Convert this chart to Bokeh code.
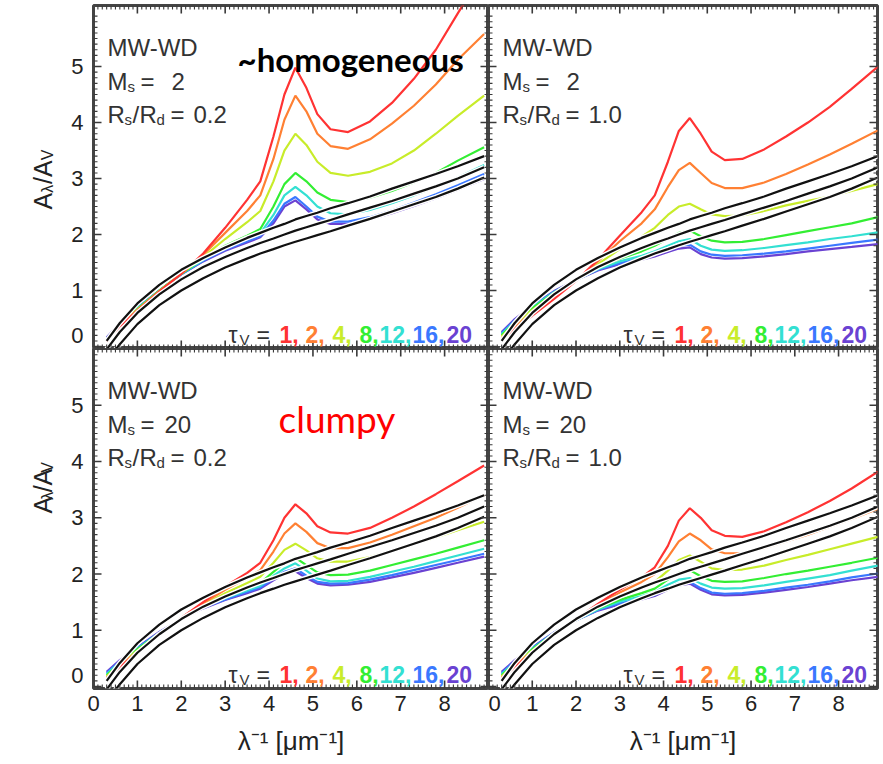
from bokeh.plotting import figure
from bokeh.models import Range1d, FixedTicker, LinearAxis, Label
from bokeh.layouts import gridplot
from bokeh.embed import file_html
from bokeh.resources import INLINE

# ---------------- data ----------------
# inverse wavelength grid [1/micron]
X = [0.3, 0.6, 1.0, 1.5, 2.0, 2.5, 3.0, 3.5, 3.8, 4.1, 4.35, 4.6, 4.85, 5.1,
     5.4, 5.8, 6.3, 6.8, 7.3, 7.8, 8.3, 8.9]

TAU_V = [1, 2, 4, 8, 12, 16, 20]
TAU_COLORS = ["#ff3333", "#ff8033", "#c8ec2a", "#33ee33", "#33e0d2", "#3a78ff", "#6a42d2"]

# three black reference curves (same in every panel)
BLACK_1 = [0.10, 0.42, 0.77, 1.10, 1.37, 1.58, 1.77, 1.94, 2.03, 2.12, 2.19, 2.27, 2.33, 2.39,
           2.47, 2.56, 2.68, 2.82, 2.95, 3.08, 3.22, 3.40]
BLACK_2 = [-0.05, 0.26, 0.60, 0.93, 1.20, 1.42, 1.60, 1.76, 1.85, 1.93, 2.00, 2.07, 2.13, 2.19,
           2.26, 2.36, 2.48, 2.60, 2.73, 2.86, 3.00, 3.20]
BLACK_3 = [-0.25, 0.04, 0.40, 0.74, 1.00, 1.22, 1.41, 1.57, 1.66, 1.74, 1.81, 1.87, 1.93, 1.99,
           2.06, 2.16, 2.28, 2.41, 2.54, 2.67, 2.82, 3.02]

# A_lambda/A_V for tau_V = 1, 2, 4, 8, 12, 16, 20
MS2_R02 = [
    [0.10, 0.36, 0.64, 0.98, 1.30, 1.66, 2.12, 2.62, 2.95, 3.75, 4.50, 4.98, 4.62, 4.15, 3.88, 3.83, 4.02, 4.35, 4.78, 5.30, 5.95, 6.70],
    [0.11, 0.37, 0.65, 0.99, 1.30, 1.64, 2.03, 2.42, 2.70, 3.35, 4.05, 4.48, 4.20, 3.80, 3.58, 3.53, 3.70, 3.98, 4.30, 4.68, 5.12, 5.58],
    [0.12, 0.38, 0.66, 0.99, 1.30, 1.60, 1.92, 2.22, 2.42, 2.95, 3.50, 3.80, 3.60, 3.30, 3.10, 3.05, 3.12, 3.27, 3.50, 3.80, 4.12, 4.48],
    [0.13, 0.39, 0.67, 1.00, 1.30, 1.57, 1.80, 1.98, 2.10, 2.50, 2.90, 3.10, 2.95, 2.75, 2.62, 2.58, 2.66, 2.78, 2.93, 3.10, 3.32, 3.56],
    [0.14, 0.40, 0.68, 1.00, 1.30, 1.55, 1.76, 1.92, 2.02, 2.35, 2.70, 2.85, 2.70, 2.50, 2.38, 2.36, 2.44, 2.56, 2.70, 2.85, 3.02, 3.24],
    [0.15, 0.41, 0.69, 1.00, 1.29, 1.53, 1.73, 1.88, 1.97, 2.25, 2.55, 2.67, 2.50, 2.32, 2.23, 2.23, 2.31, 2.43, 2.57, 2.72, 2.88, 3.08],
    [0.16, 0.42, 0.70, 1.00, 1.29, 1.52, 1.71, 1.86, 1.95, 2.20, 2.50, 2.61, 2.45, 2.27, 2.19, 2.19, 2.27, 2.38, 2.51, 2.65, 2.80, 2.99],
]
MS2_R10 = [
    [0.12, 0.32, 0.55, 0.85, 1.17, 1.55, 1.98, 2.40, 2.70, 3.30, 3.85, 4.08, 3.80, 3.48, 3.33, 3.35, 3.52, 3.75, 4.00, 4.28, 4.60, 5.00],
    [0.15, 0.36, 0.60, 0.90, 1.18, 1.52, 1.88, 2.20, 2.45, 2.85, 3.15, 3.28, 3.10, 2.92, 2.83, 2.83, 2.93, 3.08, 3.25, 3.43, 3.62, 3.86],
    [0.18, 0.40, 0.65, 0.94, 1.19, 1.47, 1.74, 1.96, 2.12, 2.35, 2.50, 2.55, 2.45, 2.36, 2.33, 2.34, 2.42, 2.52, 2.60, 2.68, 2.78, 2.90],
    [0.20, 0.43, 0.68, 0.96, 1.19, 1.40, 1.57, 1.70, 1.80, 1.93, 2.03, 2.07, 1.97, 1.89, 1.86, 1.87, 1.92, 1.99, 2.06, 2.13, 2.20, 2.31],
    [0.22, 0.45, 0.70, 0.97, 1.19, 1.38, 1.52, 1.62, 1.70, 1.80, 1.88, 1.92, 1.80, 1.73, 1.71, 1.72, 1.76, 1.81, 1.86, 1.92, 1.97, 2.04],
    [0.24, 0.47, 0.72, 0.98, 1.19, 1.37, 1.49, 1.58, 1.65, 1.73, 1.80, 1.82, 1.70, 1.64, 1.62, 1.63, 1.66, 1.70, 1.75, 1.80, 1.85, 1.91],
    [0.26, 0.49, 0.73, 0.99, 1.19, 1.36, 1.47, 1.55, 1.61, 1.69, 1.75, 1.77, 1.65, 1.59, 1.57, 1.58, 1.61, 1.65, 1.70, 1.74, 1.78, 1.83],
]
MS20_R02 = [
    [0.14, 0.35, 0.60, 0.92, 1.22, 1.50, 1.78, 2.02, 2.20, 2.60, 3.00, 3.24, 3.08, 2.85, 2.74, 2.72, 2.82, 3.00, 3.20, 3.42, 3.65, 3.93],
    [0.16, 0.37, 0.62, 0.93, 1.22, 1.48, 1.72, 1.93, 2.07, 2.40, 2.72, 2.90, 2.75, 2.55, 2.46, 2.46, 2.56, 2.70, 2.85, 3.00, 3.18, 3.40],
    [0.18, 0.39, 0.64, 0.94, 1.21, 1.45, 1.66, 1.84, 1.95, 2.20, 2.43, 2.54, 2.42, 2.28, 2.22, 2.22, 2.30, 2.42, 2.53, 2.65, 2.78, 2.93],
    [0.20, 0.41, 0.66, 0.95, 1.20, 1.42, 1.60, 1.75, 1.84, 2.04, 2.20, 2.29, 2.16, 2.03, 1.98, 1.99, 2.06, 2.16, 2.26, 2.36, 2.47, 2.60],
    [0.22, 0.43, 0.67, 0.95, 1.20, 1.41, 1.57, 1.71, 1.79, 1.97, 2.10, 2.19, 2.06, 1.92, 1.87, 1.88, 1.95, 2.04, 2.13, 2.23, 2.33, 2.45],
    [0.24, 0.45, 0.69, 0.96, 1.20, 1.40, 1.55, 1.68, 1.76, 1.92, 2.04, 2.10, 1.97, 1.86, 1.83, 1.84, 1.90, 1.98, 2.07, 2.16, 2.25, 2.36],
    [0.26, 0.47, 0.70, 0.97, 1.20, 1.39, 1.54, 1.66, 1.74, 1.89, 2.00, 2.05, 1.93, 1.83, 1.80, 1.81, 1.86, 1.94, 2.02, 2.11, 2.20, 2.31],
]
MS20_R10 = [
    [0.14, 0.35, 0.60, 0.92, 1.20, 1.47, 1.72, 1.94, 2.12, 2.50, 2.95, 3.17, 3.00, 2.78, 2.68, 2.66, 2.76, 2.92, 3.10, 3.30, 3.52, 3.82],
    [0.16, 0.37, 0.62, 0.93, 1.20, 1.45, 1.67, 1.86, 2.00, 2.30, 2.58, 2.72, 2.60, 2.44, 2.37, 2.37, 2.46, 2.58, 2.70, 2.84, 2.98, 3.16],
    [0.18, 0.39, 0.64, 0.94, 1.19, 1.42, 1.60, 1.76, 1.86, 2.06, 2.25, 2.33, 2.22, 2.10, 2.07, 2.08, 2.15, 2.25, 2.34, 2.44, 2.54, 2.66],
    [0.20, 0.41, 0.66, 0.95, 1.19, 1.39, 1.54, 1.66, 1.74, 1.90, 2.02, 2.07, 1.96, 1.88, 1.86, 1.87, 1.93, 2.00, 2.06, 2.13, 2.20, 2.29],
    [0.22, 0.43, 0.67, 0.95, 1.18, 1.37, 1.51, 1.61, 1.68, 1.81, 1.90, 1.93, 1.83, 1.76, 1.74, 1.75, 1.80, 1.86, 1.92, 1.98, 2.06, 2.15],
    [0.24, 0.45, 0.69, 0.96, 1.18, 1.36, 1.48, 1.57, 1.63, 1.75, 1.83, 1.86, 1.75, 1.67, 1.65, 1.66, 1.70, 1.76, 1.81, 1.87, 1.94, 2.01],
    [0.26, 0.47, 0.70, 0.96, 1.18, 1.35, 1.46, 1.55, 1.61, 1.72, 1.80, 1.83, 1.72, 1.64, 1.62, 1.63, 1.67, 1.72, 1.77, 1.83, 1.89, 1.95],
]

X_TICKS = [0, 1, 2, 3, 4, 5, 6, 7, 8]
Y_TICKS = [0, 1, 2, 3, 4, 5]
Y_ZERO_LABEL_POS = 0.2      # the "0" label sits a little above its tick, as in the original

# ---------------- styling ----------------
FONT = "Liberation Sans"
TXT = "#333333"
EDGE = "#444444"
TICK = "#3a3a3a"
LBL_W = 60                  # width of the column holding the rotated y titles


def lab(p, x, y, dx, dy, text, size, color=TXT, font=FONT, style="normal",
        align="left", baseline="alphabetic", angle=0.0):
    p.add_layout(Label(x=x, y=y, x_offset=dx, y_offset=dy, text=text,
                       text_font=font, text_font_size=f"{size}px",
                       text_color=color, text_font_style=style,
                       text_align=align, text_baseline=baseline, angle=angle))


def inner_ticks(p, xmax, ymin, ymax, fw, fh):
    xpx = xmax / fw
    ypx = (ymax - ymin) / fh
    xs_major = [t for t in X_TICKS if 0 < t < xmax]
    xs_minor = [i / 10 for i in range(1, int(xmax * 10) + 1) if i % 10 and i / 10 < xmax]
    ys_major = [t for t in Y_TICKS if ymin < t < ymax]
    ys_minor = [i / 10 for i in range(1, int(ymax * 10) + 1) if i % 10 and i / 10 < ymax]
    for xs, L, w in ((xs_major, 8, 1.6), (xs_minor, 4, 1.1)):
        n = len(xs)
        p.segment(x0=xs, y0=[ymin] * n, x1=xs, y1=[ymin + L * ypx] * n, line_color=TICK, line_width=w)
        p.segment(x0=xs, y0=[ymax] * n, x1=xs, y1=[ymax - L * ypx] * n, line_color=TICK, line_width=w)
    for ys, L, w in ((ys_major, 8, 1.6), (ys_minor, 4, 1.1)):
        n = len(ys)
        p.segment(x0=[0] * n, y0=ys, x1=[L * xpx] * n, y1=ys, line_color=TICK, line_width=w)
        p.segment(x0=[xmax] * n, y0=ys, x1=[xmax - L * xpx] * n, y1=ys, line_color=TICK, line_width=w)


def panel(curves, ms, rr, left, bottom, extra=None):
    xmax = 9.0 if left else 8.89
    ymin, ymax = (-0.035, 6.09) if not bottom else (-0.035, 6.01)
    mbl = 93 - LBL_W if left else 0
    mbr = 0 if left else 6
    mbt = 0 if bottom else 5
    mbb = 76 if bottom else 0
    fw = 395 if left else 389
    fh = 340 if bottom else 343
    p = figure(width=fw + mbl + mbr, height=fh + mbt + mbb,
               x_range=Range1d(0, xmax), y_range=Range1d(ymin, ymax),
               x_axis_type=None, y_axis_type=None, toolbar_location=None,
               output_backend="svg",
               min_border_left=mbl, min_border_right=mbr,
               min_border_top=mbt, min_border_bottom=mbb,
               outline_line_color=EDGE, outline_line_width=3,
               background_fill_color="white", border_fill_color="white")

    if bottom:
        bx = LinearAxis(ticker=FixedTicker(ticks=X_TICKS))
        bx.axis_line_color = None
        bx.major_tick_line_color = None
        bx.minor_tick_line_color = None
        bx.major_tick_in = 0
        bx.major_tick_out = 0
        bx.major_label_standoff = 7
        bx.major_label_text_font = FONT
        bx.major_label_text_font_size = "22px"
        bx.major_label_text_color = "#222222"
        bx.axis_label = "λ⁻¹ [μm⁻¹]"
        bx.axis_label_text_font = FONT
        bx.axis_label_text_font_size = "26px"
        bx.axis_label_text_font_style = "normal"
        bx.axis_label_text_color = "#222222"
        bx.axis_label_standoff = 12
        p.add_layout(bx, "below")
    if left:
        lticks = [Y_ZERO_LABEL_POS] + [t for t in Y_TICKS if t > 0]
        ly = LinearAxis(ticker=FixedTicker(ticks=lticks))
        ly.axis_line_color = None
        ly.major_tick_line_color = None
        ly.minor_tick_line_color = None
        ly.major_tick_in = 0
        ly.major_tick_out = 0
        ly.major_label_standoff = 10
        ly.major_label_overrides = {Y_ZERO_LABEL_POS: "0"}
        ly.major_label_text_font = FONT
        ly.major_label_text_font_size = "22px"
        ly.major_label_text_color = "#222222"
        p.add_layout(ly, "left")

    # colored curves (tau_V = 20 drawn first, 1 last)
    for ys, col in reversed(list(zip(curves, TAU_COLORS))):
        p.line(X, ys, line_color=col, line_width=2.2)
    # black reference curves with white halo
    for ys in (BLACK_1, BLACK_2, BLACK_3):
        p.line(X, ys, line_color="white", line_width=5)
        p.line(X, ys, line_color="#111111", line_width=2.2)

    inner_ticks(p, xmax, ymin, ymax, fw, fh)

    # panel annotation, offsets measured from the frame's top-left corner
    lab(p, 0, ymax, 14, -42, "MW-WD", 24)
    lab(p, 0, ymax, 14, -76, "M", 24)
    lab(p, 0, ymax, 34, -81, "s", 15)
    lab(p, 0, ymax, 47, -76, "=", 24)
    lab(p, 0, ymax, 78 if ms == "2" else 71, -76, ms, 24)
    lab(p, 0, ymax, 14, -109, "R", 24)
    lab(p, 0, ymax, 31, -114, "s", 15)
    lab(p, 0, ymax, 39, -109, "/", 24)
    lab(p, 0, ymax, 46, -109, "R", 24)
    lab(p, 0, ymax, 63, -114, "d", 15)
    lab(p, 0, ymax, 77, -109, "=", 24)
    lab(p, 0, ymax, 100, -109, rr, 24)

    # tau legend along the bottom
    lab(p, 0, ymin, 135, 14, "τ", 23)
    lab(p, 0, ymin, 146, 9, "V", 15)
    lab(p, 0, ymin, 163, 14, "=", 23)
    pos = [186, 212, 239, 266, 286, 319, 353]
    for i, (t, col, dx) in enumerate(zip(TAU_V, TAU_COLORS, pos)):
        txt = f"{t}," if i < len(TAU_V) - 1 else f"{t}"
        lab(p, 0, ymin, dx, 14, txt, 23, color=col, style="bold")

    if extra == "homog":
        lab(p, 0, ymax, 144, -53, "~homogeneous", 33, color="#000000", font="Lato", style="bold")
    if extra == "clumpy":
        lab(p, 0, ymax, 185, -70, "clumpy", 37, color="#ff0000", font="Lato")
    return p


def ytitle(height, center_from_bottom):
    # narrow figure whose frame is the whole canvas; units are pixels
    q = figure(width=LBL_W, height=height, x_range=Range1d(0, LBL_W), y_range=Range1d(0, height),
               x_axis_type=None, y_axis_type=None, toolbar_location=None, output_backend="svg",
               min_border=0, outline_line_color=None,
               background_fill_color="white", border_fill_color="white")
    ang = 1.5707963
    s = center_from_bottom - 30
    lab(q, 42, s, 0, 0, "A", 25, color="#222222", angle=ang)
    lab(q, 47, s + 17, 0, 0, "λ", 16, color="#222222", angle=ang)
    lab(q, 42, s + 26, 0, 0, "/A", 25, color="#222222", angle=ang)
    lab(q, 47, s + 50, 0, 0, "V", 16, color="#222222", angle=ang)
    return q


t1 = ytitle(348, 171)
t2 = ytitle(416, 244)
p1 = panel(MS2_R02, "2", "0.2", left=True, bottom=False, extra="homog")
p2 = panel(MS2_R10, "2", "1.0", left=False, bottom=False)
p3 = panel(MS20_R02, "20", "0.2", left=True, bottom=True, extra="clumpy")
p4 = panel(MS20_R10, "20", "1.0", left=False, bottom=True)

grid = gridplot([[t1, p1, p2], [t2, p3, p4]], toolbar_location=None)

open("out.html", "w").write(file_html(grid, INLINE))
